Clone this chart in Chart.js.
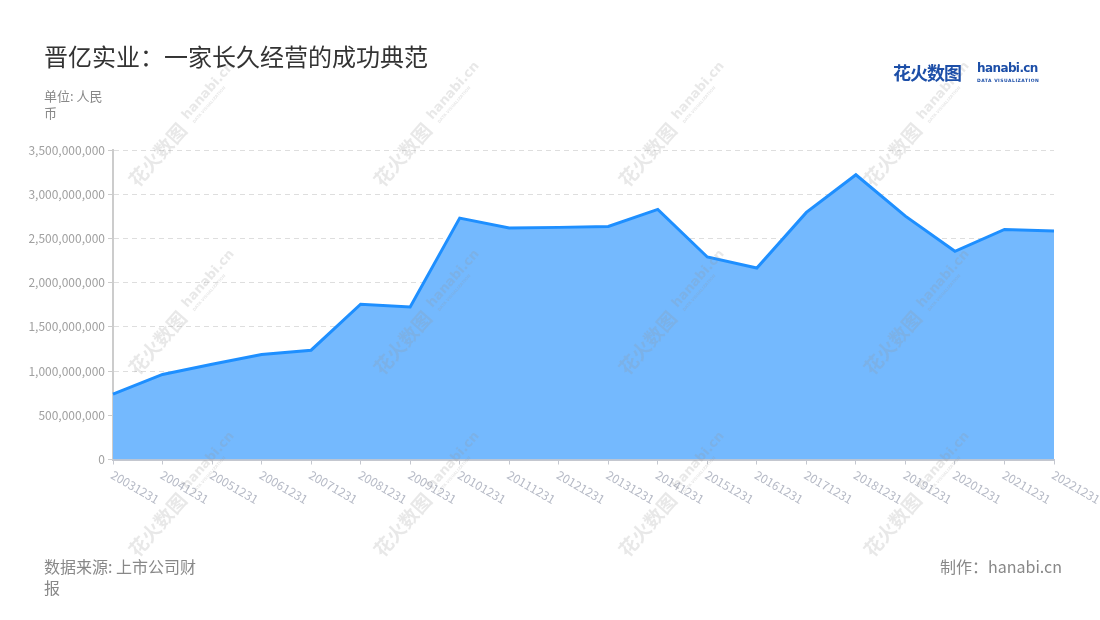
<!DOCTYPE html>
<html>
<head>
<meta charset="utf-8">
<script src="https://cdn.jsdelivr.net/npm/chart.js@4/dist/chart.umd.min.js"></script>
<style>
  body { margin: 0; background: #fff; font-family: "Noto Sans CJK SC", "Noto Sans", sans-serif; }
  #wrap { position: relative; width: 1100px; height: 620px; overflow: hidden; }
  #grafica { position: absolute; left: 0; top: 0; }
  .txt { position: absolute; white-space: nowrap; }
  #titulo { left: 44px; top: 38px; font-size: 24px; color: #333; }
  #unidad { left: 44px; top: 87px; font-size: 13px; line-height: 17px; color: #888; }
  #fuente { left: 44px; top: 556px; font-size: 16px; line-height: 21px; color: #888; }
  #autor { right: 38px; top: 556px; font-size: 16px; line-height: 21px; color: #888; }
  #logo { left: 893px; top: 59px; color: #1d4fa8; }
  #logo .cn { font-size: 18px; font-weight: bold; letter-spacing: -1px; }
  #logo .en { position: absolute; left: 84px; top: 2px; font-family: "DejaVu Sans", sans-serif; font-weight: bold; font-size: 12px; letter-spacing: -0.6px; }
  #logo .sub { position: absolute; left: 84px; top: 19px; font-family: "DejaVu Sans", sans-serif; font-size: 4.5px; font-weight: bold; letter-spacing: 0.5px; }
</style>
</head>
<body>
<div id="wrap">
  <canvas id="grafica" width="1100" height="620"></canvas>
  <div class="txt" id="titulo">晋亿实业：一家长久经营的成功典范</div>
  <div class="txt" id="unidad">单位: 人民<br>币</div>
  <div class="txt" id="fuente">数据来源: 上市公司财<br>报</div>
  <div class="txt" id="autor">制作：hanabi.cn</div>
  <div class="txt" id="logo"><span class="cn">花火数图</span><span class="en">hanabi.cn</span><span class="sub">DATA VISUALIZATION</span></div>
</div>
<script>
// datos
var fechas = ["20031231", "20041231", "20051231", "20061231", "20071231", "20081231", "20091231",
  "20101231", "20111231", "20121231", "20131231", "20141231", "20151231", "20161231",
  "20171231", "20181231", "20191231", "20201231", "20211231", "20221231"];

var ingresos = [740000000, 962000000, 1078000000, 1188000000, 1236000000, 1756000000, 1725000000,
  2730000000, 2617000000, 2625000000, 2636000000, 2828000000, 2290000000, 2165000000,
  2794000000, 3220000000, 2752000000, 2354000000, 2602000000, 2583000000];

var ticks_y = [0, 500000000, 1000000000, 1500000000, 2000000000, 2500000000, 3000000000, 3500000000];

Chart.defaults.font.family = '"Noto Sans CJK SC", "Noto Sans", sans-serif';

// etiquetas del eje x giradas hacia abajo
var etiquetasX = {
  id: "etiquetasX",
  afterDraw: function (chart) {
    var ctx = chart.ctx;
    var x = chart.scales.x;
    ctx.save();
    ctx.font = '12px "Noto Sans CJK SC", sans-serif';
    ctx.fillStyle = "#b6bac6";
    ctx.textAlign = "left";
    ctx.textBaseline = "top";
    for (var i = 0; i < fechas.length; i++) {
      var px = x.getPixelForValue(i);
      ctx.save();
      ctx.translate(px + 2, x.top + 9);
      ctx.rotate(Math.PI / 6);
      ctx.fillText(fechas[i], 0, 0);
      ctx.restore();
    }
    ctx.restore();
  },
};

// marca de agua
var marcaAgua = {
  id: "marcaAgua",
  afterDraw: function (chart) {
    var ctx = chart.ctx;
    ctx.save();
    ctx.fillStyle = "rgba(150, 150, 150, 0.22)";
    ctx.textBaseline = "middle";
    ctx.textAlign = "left";
    var filas = [125, 313, 495];
    for (var f = 0; f < filas.length; f++) {
      for (var c = 0; c < 4; c++) {
        ctx.save();
        ctx.translate(181 + 245 * c, filas[f]);
        ctx.rotate(-0.85);
        ctx.font = 'bold 19px "Noto Sans CJK SC", sans-serif';
        ctx.fillText("花火数图", -76, 2);
        ctx.font = 'bold 13px "DejaVu Sans", sans-serif';
        ctx.fillText("hanabi.cn", 8, -2);
        ctx.font = 'bold 4px "DejaVu Sans", sans-serif';
        ctx.fillText("DATA VISUALIZATION", 10, 8);
        ctx.restore();
      }
    }
    ctx.restore();
  },
};

var ctx = document.getElementById("grafica").getContext("2d");

var myChart = new Chart(ctx, {
  type: "line",
  data: {
    labels: fechas,
    datasets: [
      {
        label: "晋亿实业",
        data: ingresos,
        borderColor: "#1e8fff",
        backgroundColor: "#74b9fe",
        borderWidth: 3,
        fill: "origin",
        pointRadius: 0,
        tension: 0,
      },
    ],
  },
  options: {
    responsive: false,
    animation: false,
    devicePixelRatio: 1,
    layout: {
      padding: { left: 0, right: 46, top: 150, bottom: 0 },
    },
    plugins: {
      legend: { display: false },
      tooltip: { enabled: false },
    },
    scales: {
      x: {
        offset: false,
        grid: {
          drawOnChartArea: false,
          drawTicks: true,
          tickLength: 5,
          tickColor: "#c4c7cf",
        },
        border: { color: "#c4c7cf", width: 2 },
        ticks: { display: false },
        afterFit: function (scale) {
          scale.height = 160.5;
        },
      },
      y: {
        min: 0,
        max: 3500000000,
        afterBuildTicks: function (scale) {
          scale.ticks = ticks_y.map(function (v) { return { value: v }; });
        },
        grid: {
          color: "#dedede",
          tickColor: "#cccccc",
          tickLength: 5,
          tickBorderDash: [],
        },
        border: { color: "#cccccc", width: 2, dash: [5, 4] },
        ticks: {
          color: "#a0a0a0",
          font: { size: 12 },
          padding: 3,
          callback: function (v) {
            return Number(v).toLocaleString("en-US");
          },
        },
        afterFit: function (scale) {
          scale.width = 113;
        },
      },
    },
  },
  plugins: [etiquetasX, marcaAgua],
});
</script>
</body>
</html>
